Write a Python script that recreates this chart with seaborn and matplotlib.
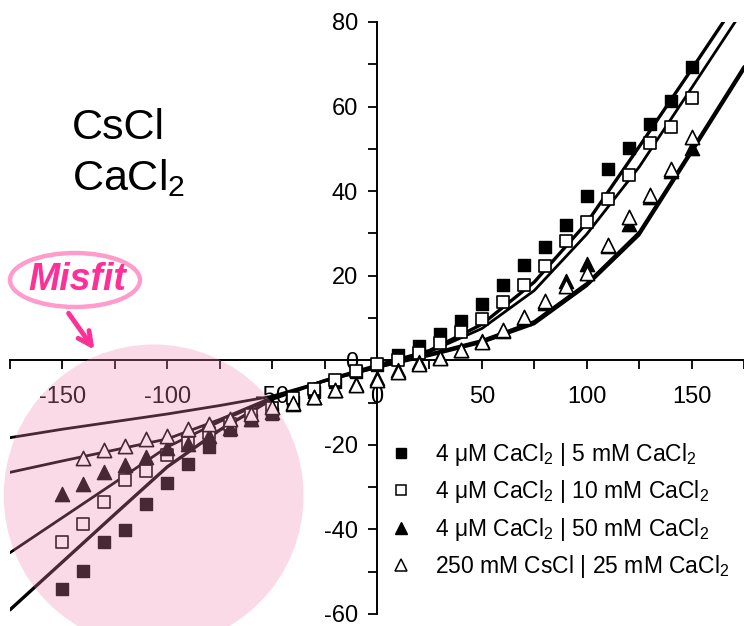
import matplotlib
matplotlib.use("Agg")
import matplotlib.pyplot as plt
from matplotlib.patches import Ellipse, FancyArrowPatch
from matplotlib.lines import Line2D
from matplotlib.ticker import MultipleLocator
import pandas as pd
import seaborn as sns

# ---- measured currents (pA) vs membrane potential (mV) ----
v_meas = list(range(-150, 151, 10))
v_cs = list(range(-140, 151, 10))

i_ca5 = [-54.0, -49.9, -43.0, -40.2, -34.0, -29.0, -24.5, -20.4, -16.4, -14.2,
         -12.6, -9.8, -7.5, -5.2, -2.8, -1.0, 1.2, 3.4, 6.2, 9.4,
         13.2, 17.8, 22.5, 26.9, 32.1, 38.8, 45.3, 50.1, 55.8, 61.4, 69.4]
i_ca10 = [-43.0, -38.6, -33.5, -28.4, -26.1, -22.4, -19.5, -17.2, -15.0, -13.0,
          -11.2, -9.0, -6.8, -4.6, -2.6, -0.8, 0.0, 1.7, 4.0, 6.8,
          9.8, 13.8, 17.9, 22.3, 28.1, 32.6, 38.2, 43.9, 51.3, 55.2, 62.1]
i_ca50 = [-31.7, -29.3, -26.5, -24.8, -22.9, -20.8, -19.8, -17.8, -16.0, -13.8,
          -12.2, -10.4, -8.6, -7.0, -5.6, -4.3, -2.2, -0.5, 0.8, 2.5,
          4.5, 7.0, 10.0, 13.5, 18.7, 22.7, 27.0, 32.2, 38.5, 44.8, 50.1]
i_cs25 = [-23.1, -21.3, -20.3, -18.7, -17.9, -16.2, -15.0, -13.8, -12.6,
          -11.0, -10.2, -8.7, -7.1, -5.9, -4.7, -2.7, -0.8, 0.5, 2.5,
          4.4, 7.2, 10.2, 14.0, 17.5, 20.7, 27.3, 34.0, 39.0, 45.3, 52.7]

# ---- model currents on a 25 mV grid ----
v_fit = list(range(-175, 176, 25))
fit_ca5 = [-59.0, -47.7, -36.4, -25.2, -16.5, -9.2, -4.8, -1.2, 2.3, 8.5,
           18.5, 32.5, 50.5, 68.8, 87.3]
fit_ca10 = [-45.5, -37.2, -28.9, -20.5, -14.5, -9.0, -4.8, -1.4, 2.0, 7.5,
            16.5, 29.8, 45.7, 64.4, 83.2]
fit_cs25 = [-26.5, -23.8, -21.2, -18.6, -14.0, -8.8, -4.9, -1.7, 1.1, 4.2,
            8.6, 17.6, 29.6, 49.1, 68.8]
fit_ca50 = [-18.3, -16.3, -14.5, -12.7, -10.7, -8.5, -4.9, -1.7, 1.5, 4.7,
            9.2, 18.2, 30.3, 49.8, 69.5]

series_labels = ["4 \u03bcM CaCl$_2$ | 5 mM CaCl$_2$",
                 "4 \u03bcM CaCl$_2$ | 10 mM CaCl$_2$",
                 "4 \u03bcM CaCl$_2$ | 50 mM CaCl$_2$",
                 "250 mM CsCl | 25 mM CaCl$_2$"]

x_ticks = [-150, -100, -50, 0, 50, 100, 150]
y_ticks = [-60, -40, -20, 0, 20, 40, 60, 80]

sns.set_style("ticks")
plt.rcParams["font.family"] = ["Liberation Sans", "DejaVu Sans"]
plt.rcParams["mathtext.default"] = "regular"
plt.rcParams["axes.unicode_minus"] = False
plt.rcParams["text.color"] = "black"
plt.rcParams["xtick.color"] = "black"
plt.rcParams["ytick.color"] = "black"
plt.rcParams["axes.edgecolor"] = "black"

fig = plt.figure(figsize=(7.44, 6.26), dpi=100)
ax = fig.add_axes([10 / 744, 12 / 626, 734 / 744, 592 / 626])

# model curves
for fit, lw in [(fit_ca5, 2.4), (fit_ca10, 2.0), (fit_cs25, 2.0), (fit_ca50, 2.0)]:
    sns.lineplot(x=v_fit, y=fit, ax=ax, color="black", lw=lw, sort=False, zorder=3)

# measured points
sns.scatterplot(x=v_meas, y=i_ca5, ax=ax, marker="s", s=80, color="black",
                edgecolor="black", linewidth=1.0, zorder=4)
sns.scatterplot(x=v_meas, y=i_ca10, ax=ax, marker="s", s=80, color="white",
                edgecolor="black", linewidth=1.2, zorder=4)
sns.scatterplot(x=v_meas, y=i_ca50, ax=ax, marker="^", s=105, color="black",
                edgecolor="black", linewidth=1.0, zorder=4)
sns.scatterplot(x=v_cs, y=i_cs25, ax=ax, marker="^", s=105, color="white",
                edgecolor="black", linewidth=1.2, zorder=4)

ax.set_xlim(-175, 175)
ax.set_ylim(-60, 80)
ax.set_xlabel("")
ax.set_ylabel("")

# axes crossing at the origin
ax.spines["left"].set_position(("data", 0))
ax.spines["bottom"].set_position(("data", 0))
ax.spines["top"].set_visible(False)
ax.spines["right"].set_visible(False)
for side in ["left", "bottom"]:
    ax.spines[side].set_linewidth(1.4)

ax.set_xticks(x_ticks)
ax.set_yticks(y_ticks)
ax.xaxis.set_minor_locator(MultipleLocator(25))
ax.yaxis.set_minor_locator(MultipleLocator(10))
ax.tick_params(which="both", direction="out", length=6.5, width=1.3,
               labelsize=17, colors="black")
ax.tick_params(axis="x", which="major", pad=12)
ax.tick_params(axis="y", which="major", pad=7)

# legend
handles = [
    Line2D([], [], ls="none", marker="s", ms=7.5, mfc="black", mec="black"),
    Line2D([], [], ls="none", marker="s", ms=7.5, mfc="white", mec="black", mew=1.1),
    Line2D([], [], ls="none", marker="^", ms=9, mfc="black", mec="black"),
    Line2D([], [], ls="none", marker="^", ms=9, mfc="white", mec="black", mew=1.1),
]
ax.legend(handles, series_labels, loc="upper left",
          bbox_to_anchor=(390 / 744, 1 - 441 / 626),
          bbox_transform=fig.transFigure, frameon=False, fontsize=16.5,
          borderpad=0, borderaxespad=0, handlelength=1.0,
          handletextpad=0.95, labelspacing=0.45)

# solution labels
fig.text(72 / 744, 1 - 128 / 626, "CsCl", fontsize=31, ha="left", va="center")
fig.text(72 / 744, 1 - 178 / 626, "CaCl$_2$", fontsize=31, ha="left", va="center")

# highlight of the poorly fitted region
ax.add_patch(Ellipse((-106.5, -32.0), width=143, height=71.5,
                     facecolor=(0.96, 0.53, 0.71), alpha=0.3, edgecolor="none",
                     clip_on=False, zorder=10))

fig.add_artist(Ellipse((75 / 744, 1 - 280 / 626), width=130 / 744, height=54 / 626,
                       transform=fig.transFigure, facecolor="white",
                       edgecolor="#ff9ccc", lw=3.2, zorder=11))
fig.text(77 / 744, 1 - 280 / 626, "Misfit", fontsize=27, fontweight="bold",
         fontstyle="italic", color="#ff2f98", ha="center", va="center", zorder=12)
fig.add_artist(FancyArrowPatch((67 / 744, 1 - 311 / 626), (96 / 744, 1 - 352 / 626),
                               transform=fig.transFigure, arrowstyle="->",
                               mutation_scale=24, lw=3.5, color="#ff2f98",
                               zorder=12))

fig.savefig("out.png", dpi=100)
